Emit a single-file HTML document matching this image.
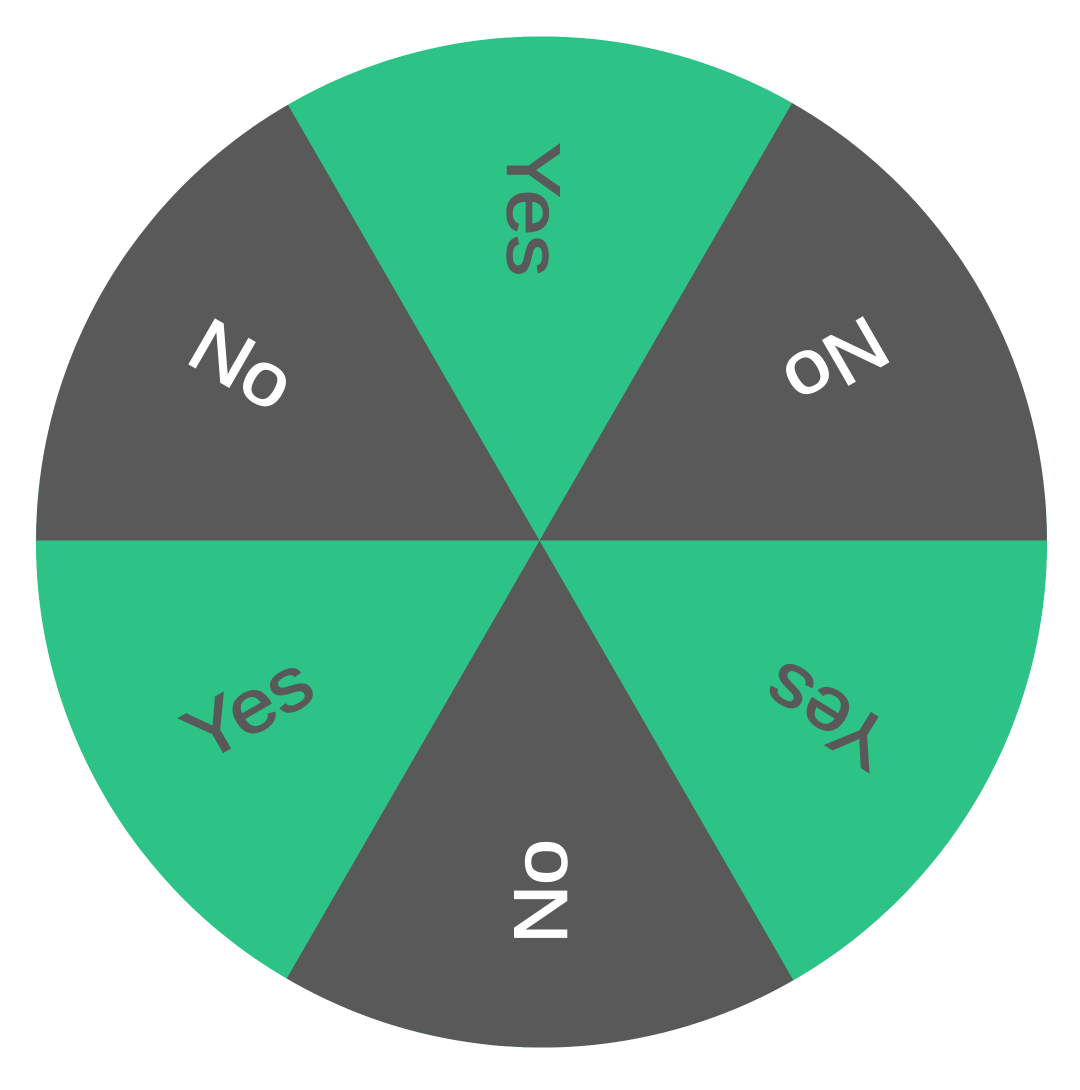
<!DOCTYPE html>
<html>
<head>
<meta charset="utf-8">
<title>Yes or No wheel</title>
<style>
html,body{margin:0;padding:0;background:#fff;width:1080px;height:1090px;overflow:hidden}
svg{display:block}
text{font-family:"Liberation Sans",sans-serif;font-size:75px;text-anchor:middle;stroke-width:1.5px}
</style>
</head>
<body>
<svg id="chart" width="1080" height="1090" viewBox="0 0 1080 1090" xmlns="http://www.w3.org/2000/svg">
<defs><clipPath id="wheel-clip"><circle cx="541.5" cy="542" r="505.5"></circle></clipPath></defs>
<circle cx="541.5" cy="542" r="505.5" fill="#2ec386"></circle>
<g id="slices" clip-path="url(#wheel-clip)"></g>
<g id="labels"></g>
</svg>
<script>
const labels = ["Yes", "No", "Yes", "No", "Yes", "No"];
const values = [1, 1, 1, 1, 1, 1];
const startAngle = -30;
const cx = 539.5, cy = 540.5, sliceR = 508.2;
const colorOf = { Yes: "#2ec386", No: "#595959" };
const textOf = { Yes: "#595959", No: "#ffffff" };
const radiusOf = { Yes: 335, No: 350 };
const total = values.reduce((a, b) => a + b, 0);
const NS = "http://www.w3.org/2000/svg";
const angleScale = v => v / total * 360;
const px = (deg, r) => cx + r * Math.sin(deg * Math.PI / 180);
const py = (deg, r) => cy - r * Math.cos(deg * Math.PI / 180);
/* Small per-slice layout corrections for the hand-warped label art */
const nudge = i => ({
  0: [-5, 4, 0], 1: [-6, -2, 0], 2: [-3, 9, 2],
  3: [0, 1, 0], 4: [-2, -1, 0], 5: [6, -2, 0]
}[i] || [0, 0, 0]);
const sliceGroup = document.getElementById("slices");
const labelGroup = document.getElementById("labels");
let cum = 0;
labels.forEach((label, i) => {
  const a0 = startAngle + angleScale(cum);
  const a1 = a0 + angleScale(values[i]);
  const mid = (a0 + a1) / 2;
  cum += values[i];
  const path = document.createElementNS(NS, "path");
  path.setAttribute("d", `M${cx} ${cy}L${px(a0, sliceR)} ${py(a0, sliceR)}A${sliceR} ${sliceR} 0 ${a1 - a0 > 180 ? 1 : 0} 1 ${px(a1, sliceR)} ${py(a1, sliceR)}Z`);
  path.setAttribute("fill", colorOf[label]);
  
  
  sliceGroup.appendChild(path);
  const r = radiusOf[label];
  const [nx, ny, tilt] = nudge(i);
  const t = document.createElementNS(NS, "text");
  const x = px(mid, r) + nx, y = py(mid, r) + ny;
  t.setAttribute("transform", `translate(${x} ${y}) rotate(${mid + 90 + tilt}) scale(1.09 1)`);
  t.setAttribute("y", 27);
  t.setAttribute("fill", textOf[label]);
  t.setAttribute("stroke", textOf[label]);
  
  
  t.textContent = label;
  labelGroup.appendChild(t);
});
</script>
</body>
</html>
